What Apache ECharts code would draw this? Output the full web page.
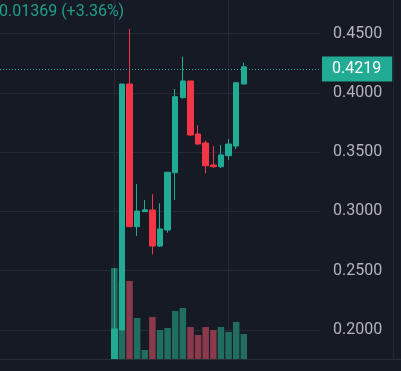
<!DOCTYPE html>
<html>
<head>
<meta charset="utf-8">
<script src="https://cdn.jsdelivr.net/npm/echarts@6/dist/echarts.min.js"></script>
<style>
html,body{margin:0;padding:0;background:#161a25;}
#c{width:401px;height:371px;}
</style>
</head>
<body>
<div id="c"></div>
<script>
// ---- data ----
const leadingEmpty = 15;
const trailingEmpty = 10;
const opens  = [0.1750, 0.2000, 0.4074, 0.2871, 0.2998, 0.3012, 0.2708, 0.2843, 0.3326, 0.3959, 0.4100, 0.3653, 0.3577, 0.3391, 0.3377, 0.3470, 0.3551, 0.4074];
const closes = [0.2008, 0.4074, 0.2871, 0.3003, 0.3013, 0.2708, 0.2852, 0.3330, 0.3967, 0.4100, 0.3644, 0.3568, 0.3385, 0.3377, 0.3476, 0.3568, 0.4085, 0.4219];
const lows   = [0.1750, 0.2000, 0.2871, 0.2793, 0.2998, 0.2638, 0.2700, 0.2820, 0.3096, 0.3950, 0.3636, 0.3560, 0.3321, 0.3366, 0.3366, 0.3433, 0.3524, 0.4074];
const highs  = [0.2520, 0.4074, 0.4538, 0.3230, 0.3096, 0.3144, 0.3070, 0.3330, 0.4032, 0.4305, 0.4100, 0.3726, 0.3597, 0.3551, 0.3560, 0.3610, 0.4085, 0.4254];
const volumes = [92, 79, 79, 42, 10, 43, 30, 32, 49, 52, 33, 25, 33, 30, 33, 28, 38, 26];
const lastPrice = 0.4219;
const changeText = '0.01369 (+3.36%)';
const priceTicks = [0.15, 0.5, 0.05]; // min, max, interval

// ---- build ----
const total = leadingEmpty + opens.length + trailingEmpty;
const categories = [];
for (let i = 0; i < total; i++) categories.push(String(i));
const candleData = [];
const volData = [];
for (let i = 0; i < total; i++) {
  const j = i - leadingEmpty;
  if (j >= 0 && j < opens.length) {
    candleData.push([opens[j], closes[j], lows[j], highs[j]]);
    const up = closes[j] >= opens[j];
    volData.push({value: volumes[j], itemStyle: {color: up ? '#216e61' : '#8a3a4b'}});
  } else {
    candleData.push('-');
    volData.push('-');
  }
}

const UP = '#22ab94', DOWN = '#f23645', BG = '#161a25', GRID = '#252935';
const chart = echarts.init(document.getElementById('c'), null, {renderer: 'canvas'});
chart.setOption({
  backgroundColor: BG,
  animation: false,
  title: {
    text: changeText, left: -1, top: 4, padding: 0,
    textStyle: {color: '#1f9e89', fontSize: 16, fontWeight: 'normal', fontFamily: 'Roboto'}
  },
  grid: [
    {left: 0, right: 81, top: -25.8, height: 415.1, containLabel: false, outerBoundsMode: 'none'},
    {left: 0, right: 81, bottom: 11, height: 100, containLabel: false, outerBoundsMode: 'none'}
  ],
  xAxis: [
    {type: 'category', data: categories, boundaryGap: false, gridIndex: 0,
     axisLine: {show: false}, axisTick: {show: false}, axisLabel: {show: false},
     splitLine: {show: true, interval: function (idx) { return idx === 15 || idx === 30; },
                 lineStyle: {color: GRID, width: 1}}},
    {type: 'category', data: categories, boundaryGap: false, gridIndex: 1,
     axisLine: {show: false}, axisTick: {show: false}, axisLabel: {show: false}, splitLine: {show: false}}
  ],
  yAxis: [
    {type: 'value', position: 'right', gridIndex: 0,
     min: priceTicks[0], max: priceTicks[1], interval: priceTicks[2],
     axisLine: {show: false}, axisTick: {show: false},
     axisLabel: {color: '#b2b5be', fontSize: 16, fontFamily: 'Roboto', margin: 13,
                 formatter: v => v.toFixed(4)},
     splitLine: {lineStyle: {color: GRID, width: 1}}},
    {type: 'value', gridIndex: 1, min: 0, max: 100,
     axisLine: {show: false}, axisTick: {show: false}, axisLabel: {show: false}, splitLine: {show: false}}
  ],
  series: [
    {type: 'bar', xAxisIndex: 1, yAxisIndex: 1, data: volData, barWidth: 6.5, z: 1},
    {type: 'candlestick', xAxisIndex: 0, yAxisIndex: 0, data: candleData, barWidth: 6, z: 3,
     itemStyle: {color: UP, color0: DOWN, borderColor: UP, borderColor0: DOWN, borderWidth: 1},
     markLine: {
       symbol: ['none', 'none'], silent: true,
       lineStyle: {color: UP, type: [1, 2], width: 1},
       label: {show: true, position: 'end', distance: 2, formatter: lastPrice.toFixed(4),
               color: '#ffffff', backgroundColor: UP, fontSize: 16, fontFamily: 'Roboto',
               padding: [5, 11, 4, 10]},
       data: [{yAxis: lastPrice}]
     }}
  ],
  graphic: [
    {type: 'rect', shape: {x: 0, y: 360, width: 401, height: 11}, style: {fill: BG}, z: 100},
    {type: 'line', shape: {x1: 0, y1: 359.5, x2: 401, y2: 359.5}, style: {stroke: '#2a2e39', lineWidth: 1}, z: 101},
    {type: 'line', shape: {x1: 393.5, y1: 0, x2: 393.5, y2: 360}, style: {stroke: '#22262f', lineWidth: 1}, z: 101}
  ]
});
</script>
</body>
</html>
